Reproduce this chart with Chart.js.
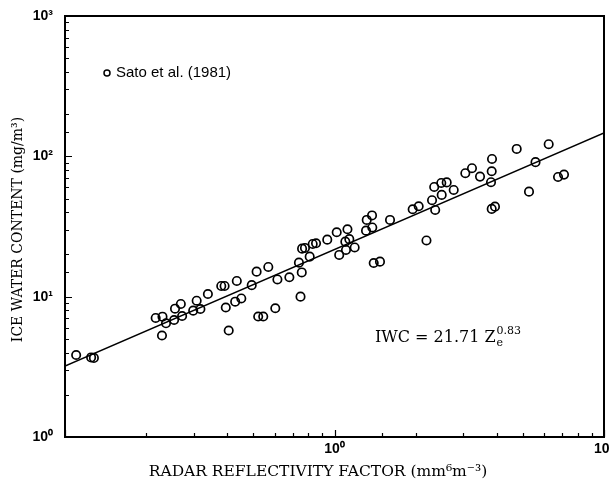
<!DOCTYPE html>
<html>
<head>
<meta charset="utf-8">
<script src="https://cdn.jsdelivr.net/npm/chart.js@4/dist/chart.umd.min.js"></script>
<style>
    html, body { margin: 0; padding: 0; background: #fff; }
    canvas { display: block; }
</style>
</head>
<body>
<canvas id="iwcChart" width="610" height="489"></canvas>
<script>
// Radar reflectivity factor Ze (mm^6 m^-3).
const zeValues = [
    0.110, 0.125, 0.128, 0.217, 0.230, 0.229, 0.237, 0.254, 0.256, 0.269,
    0.272, 0.299, 0.308, 0.318, 0.339, 0.380, 0.391, 0.395, 0.405, 0.428,
    0.451, 0.434, 0.493, 0.514, 0.521, 0.544, 0.568, 0.603, 0.614, 0.680,
    0.738, 0.756, 0.748, 0.758, 0.777, 0.809, 0.830, 0.854, 0.940, 1.019,
    1.041, 1.117, 1.097, 1.135, 1.103, 1.188, 1.309, 1.317, 1.378, 1.381,
    1.398, 1.475, 1.607, 1.950, 2.053, 2.194, 2.301, 2.364, 2.344, 2.499,
    2.490, 2.608, 2.769, 3.058, 3.237, 3.467, 3.841, 3.831, 3.808, 3.831,
    3.940, 4.743, 5.269, 5.570, 6.234, 6.752, 7.106
];

// Ice water content (mg/m^3), same order as zeValues.
const iwcValues = [
    3.84, 3.69, 3.66, 7.05, 7.20, 5.29, 6.46, 6.82, 8.21, 8.87,
    7.28, 7.95, 9.36, 8.17, 10.45, 11.92, 11.92, 8.37, 5.74, 9.21,
    9.71, 12.94, 12.08, 15.07, 7.22, 7.22, 16.28, 8.27, 13.26, 13.75,
    17.47, 14.88, 10.0, 21.98, 22.24, 19.28, 23.74, 24.02, 25.48, 28.77,
    19.83, 30.22, 24.66, 25.70, 21.52, 22.42, 29.53, 35.22, 37.92, 31.13,
    17.38, 17.77, 35.22, 41.98, 44.08, 25.15, 48.67, 41.49, 60.5, 53.1,
    64.6, 65.2, 57.6, 75.8, 82.3, 71.7, 95.8, 78.3, 65.4, 42.2,
    43.8, 112.9, 56.0, 90.9, 122.0, 71.3, 74.1
];

// End points of the fitted line IWC = 21.71 Ze^0.83.
const fitZe = [0.1, 10];
const fitIwc = [3.2, 147];

// Labelled ticks.
const xTickValues = [1, 10];
const xTickLabels = ['10\u2070', '10\u00b9'];
const yTickValues = [1, 10, 100, 1000];
const yTickLabels = ['10\u2070', '10\u00b9', '10\u00b2', '10\u00b3'];

const seriesLabel = 'Sato et al. (1981)';
const xTitle = 'RADAR REFLECTIVITY FACTOR (mm\u2076m\u207b\u00b3)';
const yTitle = 'ICE WATER CONTENT (mg/m\u00b3)';


function isDecade(v) {
    const l = Math.log10(v);
    return Math.abs(l - Math.round(l)) < 1e-6;
}

function labelFor(value, values, labels) {
    const i = values.findIndex(v => Math.abs(v - value) / v < 1e-6);
    return i >= 0 ? labels[i] : '';
}

// Frame, inward tick marks, axis titles, legend and the fit equation.
const decorPlugin = {
    id: 'decor',
    afterDraw(chart) {
        const ctx = chart.ctx;
        const a = chart.chartArea;
        const xs = chart.scales.x;
        const ys = chart.scales.y;

        ctx.save();
        ctx.strokeStyle = '#000';
        ctx.fillStyle = '#000';

        ctx.lineWidth = 2;
        ctx.strokeRect(a.left, a.top, a.right - a.left, a.bottom - a.top);

        ctx.lineWidth = 1.2;
        ctx.beginPath();
        xs.ticks.forEach(t => {
            const px = Math.round(xs.getPixelForValue(t.value)) + 0.5;
            const len = isDecade(t.value) ? 7 : 4;
            ctx.moveTo(px, a.bottom);
            ctx.lineTo(px, a.bottom - len);
        });
        ys.ticks.forEach(t => {
            const py = Math.round(ys.getPixelForValue(t.value)) + 0.5;
            const len = isDecade(t.value) ? 7 : 4;
            ctx.moveTo(a.left, py);
            ctx.lineTo(a.left + len, py);
        });
        ctx.stroke();

        // Axis titles
        ctx.textAlign = 'center';
        ctx.textBaseline = 'middle';
        ctx.font = '15.5px "DejaVu Serif"';
        ctx.fillText(xTitle, 318, 472);

        ctx.font = '14px "DejaVu Serif"';
        ctx.save();
        ctx.translate(18, (a.top + a.bottom) / 2 + 3);
        ctx.rotate(-Math.PI / 2);
        ctx.fillText(yTitle, 0, 0);
        ctx.restore();

        // Legend
        ctx.lineWidth = 1.5;
        ctx.beginPath();
        ctx.arc(107, 73, 3, 0, Math.PI * 2);
        ctx.stroke();
        ctx.font = '15px "Liberation Sans"';
        ctx.textAlign = 'left';
        ctx.fillText(seriesLabel, 116, 73);

        // Fit equation
        ctx.textBaseline = 'alphabetic';
        let x = 375;
        const base = 342;
        ctx.font = '16px "DejaVu Serif"';
        const main = 'IWC = 21.71 Z';
        ctx.fillText(main, x, base);
        x += ctx.measureText(main).width;
        ctx.font = '11px "DejaVu Serif"';
        ctx.fillText('e', x + 1, base + 4);
        ctx.fillText('0.83', x + 1, base - 8);

        ctx.restore();
    }
};


const ctx = document.getElementById('iwcChart');

new Chart(ctx, {
    type: 'scatter',
    data: {
        datasets: [
            {
                label: seriesLabel,
                data: zeValues.map((z, i) => ({x: z, y: iwcValues[i]})),
                pointStyle: 'circle',
                pointRadius: 4.2,
                pointBorderWidth: 1.7,
                borderColor: '#000',
                backgroundColor: 'rgba(0,0,0,0)'
            },
            {
                type: 'line',
                label: 'fit',
                data: fitZe.map((z, i) => ({x: z, y: fitIwc[i]})),
                borderColor: '#000',
                borderWidth: 1.5,
                pointRadius: 0,
                fill: false
            }
        ]
    },
    options: {
        responsive: false,
        animation: false,
        devicePixelRatio: 1,
        layout: {
            padding: {top: 16, right: 6, left: 0, bottom: 0}
        },
        plugins: {
            legend: {display: false},
            tooltip: {enabled: false}
        },
        scales: {
            x: {
                type: 'logarithmic',
                min: 0.1,
                max: 10,
                grid: {display: false, drawTicks: false},
                border: {display: false},
                ticks: {
                    autoSkip: false,
                    maxRotation: 0,
                    padding: 4,
                    color: '#000',
                    font: {family: '"Liberation Sans"', size: 14, weight: 'bold'},
                    callback: (value) => labelFor(value, xTickValues, xTickLabels)
                },
                afterFit: (s) => {
                    s.height = 52;
                    s.paddingLeft = 0;
                    s.paddingRight = 0;
                }
            },
            y: {
                type: 'logarithmic',
                min: 1,
                max: 1000,
                grid: {display: false, drawTicks: false},
                border: {display: false},
                ticks: {
                    autoSkip: false,
                    padding: 12,
                    color: '#000',
                    font: {family: '"Liberation Sans"', size: 14, weight: 'bold'},
                    callback: (value) => labelFor(value, yTickValues, yTickLabels)
                },
                afterFit: (s) => {
                    s.width = 65;
                    s.paddingTop = 0;
                    s.paddingBottom = 0;
                }
            }
        }
    },
    plugins: [decorPlugin]
});
</script>
</body>
</html>
